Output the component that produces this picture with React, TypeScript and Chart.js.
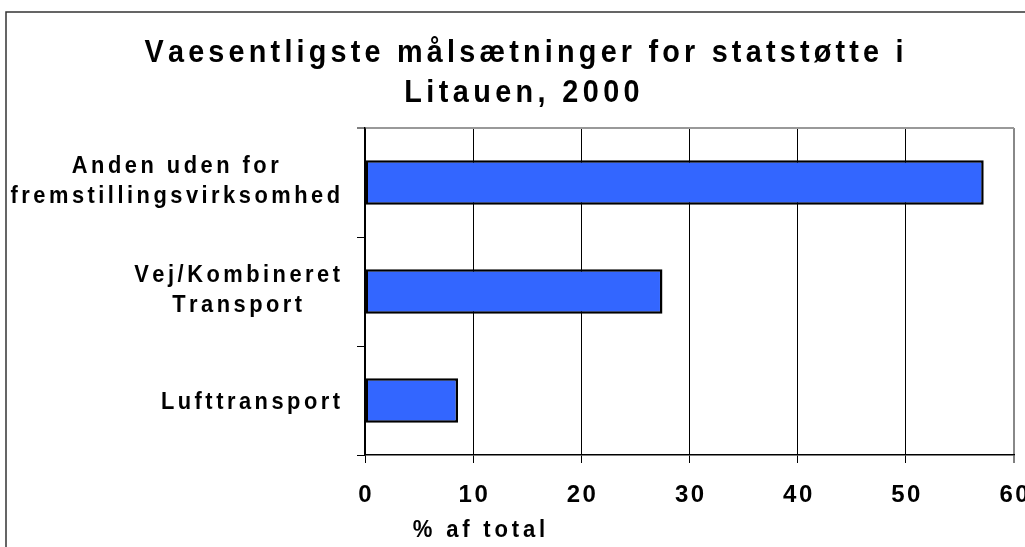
import { useEffect, useRef } from 'react';
import { Chart, registerables } from 'chart.js';

Chart.register(...registerables);

const titleLines = ['Vaesentligste målsætninger for statstøtte i', 'Litauen, 2000'];
const categoryLines = [
  ['Anden uden for', 'fremstillingsvirksomhed'],
  ['Vej/Kombineret', 'Transport'],
  ['Lufttransport'],
];
const categories = categoryLines.map((l) => l.join(' '));
const values = [57.2, 27.5, 8.6];
const xTicks = [0, 10, 20, 30, 40, 50, 60];
const xTitle = '% af total';

const FONT = '"Liberation Sans", Arial, Helvetica, sans-serif';

function spacedWidth(ctx: CanvasRenderingContext2D, text: string, spacing: number, k: number) {
  let w = 0;
  for (const ch of text) w += ctx.measureText(ch).width * k;
  return w + spacing * (Math.max(text.length, 1) - 1);
}

function drawSpaced(
  ctx: CanvasRenderingContext2D,
  text: string,
  x: number,
  y: number,
  spacing: number,
  align: 'left' | 'center' | 'right',
  k: number
) {
  const w = spacedWidth(ctx, text, spacing, k);
  let sx = x;
  if (align === 'center') sx = x - w / 2;
  else if (align === 'right') sx = x - w;
  ctx.textAlign = 'left';
  for (const ch of text) {
    ctx.save();
    ctx.translate(sx, y);
    ctx.scale(k, 1);
    ctx.fillText(ch, 0, 0);
    ctx.restore();
    sx += ctx.measureText(ch).width * k + spacing;
  }
}

const textPlugin = {
  id: 'textPlugin',
  beforeDraw(chart: any) {
    const ctx = chart.ctx as CanvasRenderingContext2D;
    ctx.save();
    ctx.fillStyle = '#ffffff';
    ctx.fillRect(0, 0, chart.width, chart.height);
    ctx.strokeStyle = '#333333';
    ctx.lineWidth = 1.5;
    ctx.strokeRect(6, 12, chart.width + 50, chart.height + 50);
    ctx.restore();
  },
  afterDraw(chart: any) {
    const ctx = chart.ctx as CanvasRenderingContext2D;
    const xs = chart.scales.x;
    const ys = chart.scales.y;
    ctx.save();
    ctx.fillStyle = '#000000';
    ctx.textBaseline = 'alphabetic';

    // Title
    ctx.font = `bold 32px ${FONT}`;
    drawSpaced(ctx, titleLines[0], 524, 62, 4.2, 'center', 0.9);
    drawSpaced(ctx, titleLines[1], 522, 102, 4.4, 'center', 0.9);

    // Category labels
    ctx.font = `bold 24px ${FONT}`;
    const labSp = 3.5;
    const labK = 0.91;
    categoryLines.forEach((lines, i) => {
      const c = ys.getPixelForValue(i);
      const widths = lines.map((l) => spacedWidth(ctx, l, labSp, labK));
      const maxW = Math.max(...widths);
      const blockCenter = 340 - maxW / 2;
      const baselines = lines.length === 1 ? [c + 8] : [c - 10, c + 20];
      lines.forEach((l, j) => drawSpaced(ctx, l, blockCenter, baselines[j], labSp, 'center', labK));
    });

    // X tick labels
    ctx.font = `bold 24px ${FONT}`;
    xTicks.forEach((v) => {
      drawSpaced(ctx, String(v), xs.getPixelForValue(v), 502, 2.5, 'center', 1);
    });

    // X title
    ctx.font = `bold 24px ${FONT}`;
    drawSpaced(ctx, xTitle, 479, 537, 3.8, 'center', 0.92);
    ctx.restore();
  },
};

export default function App() {
  const ref = useRef<HTMLCanvasElement | null>(null);
  useEffect(() => {
    if (!ref.current) return;
    const chart = new Chart(ref.current, {
      type: 'bar',
      data: {
        labels: categories,
        datasets: [
          {
            data: values,
            backgroundColor: '#3366FF',
            borderColor: '#000000',
            borderWidth: 2.5,
            borderSkipped: false,
            barPercentage: 0.41,
            categoryPercentage: 1,
          },
        ],
      },
      options: {
        indexAxis: 'y',
        responsive: false,
        animation: false,
        devicePixelRatio: 1,
        layout: { padding: { left: 357, top: 128, right: 86, bottom: 137 } },
        plugins: { legend: { display: false }, tooltip: { enabled: false }, title: { display: false } },
        scales: {
          x: {
            type: 'linear',
            min: 0,
            max: 60,
            ticks: { stepSize: 10, display: false },
            grid: {
              color: (c: any) => (c.index === 6 ? '#888888' : '#000000'),
              lineWidth: (c: any) => (c.index === 6 ? 2 : 1),
              tickColor: '#000000',
              tickLength: 8,
              tickWidth: 1,
            },
            border: { color: '#000000', width: 1.5 },
            afterFit: (s: any) => {
              s.height = 8;
            },
          },
          y: {
            type: 'category',
            ticks: { display: false },
            grid: {
              offset: true,
              color: (c: any) => (c.index === 0 ? '#999999' : 'rgba(0,0,0,0)'),
              lineWidth: (c: any) => (c.index === 0 ? 2 : 1),
              tickColor: '#000000',
              tickLength: 8,
              tickWidth: 1,
            },
            border: { color: '#000000', width: 1.5 },
            afterFit: (s: any) => {
              s.width = 8;
            },
          },
        },
      },
      plugins: [textPlugin],
    });
    return () => chart.destroy();
  }, []);

  return (
    <div
      style={{
        position: 'fixed',
        left: 0,
        top: 0,
        width: 1025,
        height: 547,
        overflow: 'hidden',
        background: '#ffffff',
      }}
    >
      <canvas ref={ref} width={1100} height={600} style={{ display: 'block' }} />
    </div>
  );
}
